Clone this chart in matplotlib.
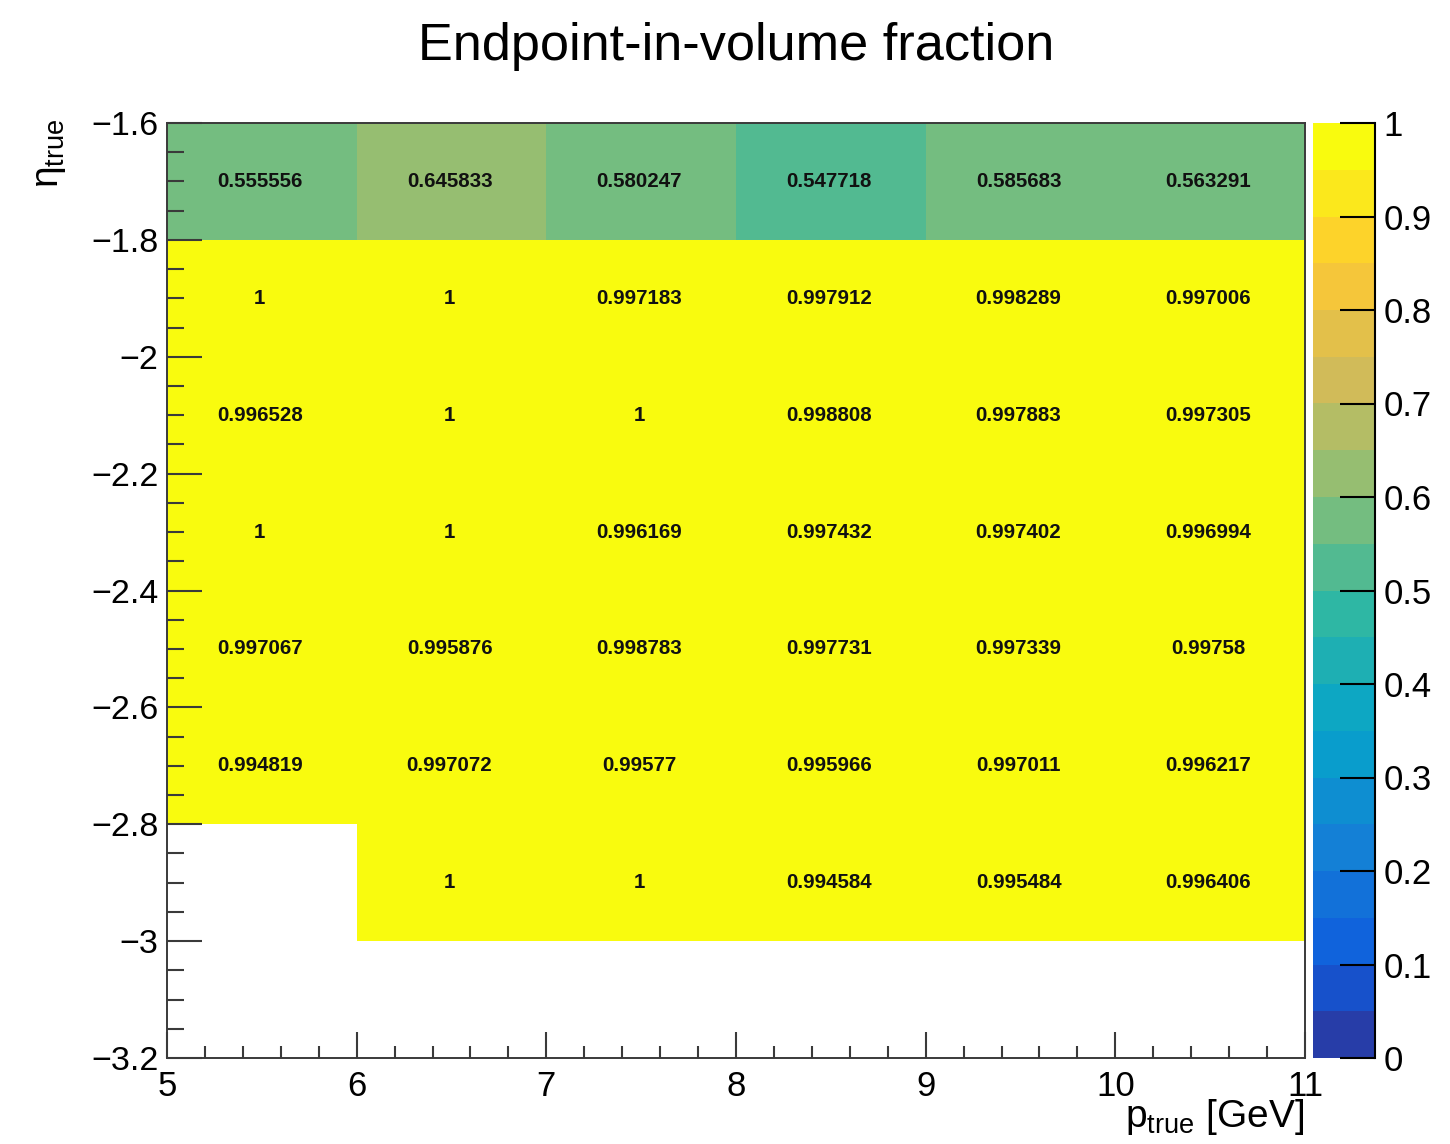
import numpy as np
import matplotlib
matplotlib.use("Agg")
import matplotlib.pyplot as plt
from matplotlib.colors import LinearSegmentedColormap, ListedColormap, Normalize
from matplotlib.ticker import MultipleLocator

plt.rcParams['font.family'] = ['Liberation Sans', 'DejaVu Sans']
plt.rcParams['mathtext.fontset'] = 'custom'
plt.rcParams['mathtext.rm'] = 'Liberation Sans'
plt.rcParams['mathtext.it'] = 'Liberation Sans:italic'
plt.rcParams['mathtext.bf'] = 'Liberation Sans:bold'

# ---- data ----
x_edges = [5, 6, 7, 8, 9, 10, 11]
y_edges = [-3.2, -3.0, -2.8, -2.6, -2.4, -2.2, -2.0, -1.8, -1.6]
# rows from bottom (-3.2..-3.0) to top (-1.8..-1.6); None = empty bin
row_m31 = [None, None, None, None, None, None]
row_m29 = [None, 1, 1, 0.994584, 0.995484, 0.996406]
row_m27 = [0.994819, 0.997072, 0.99577, 0.995966, 0.997011, 0.996217]
row_m25 = [0.997067, 0.995876, 0.998783, 0.997731, 0.997339, 0.99758]
row_m23 = [1, 1, 0.996169, 0.997432, 0.997402, 0.996994]
row_m21 = [0.996528, 1, 1, 0.998808, 0.997883, 0.997305]
row_m19 = [1, 1, 0.997183, 0.997912, 0.998289, 0.997006]
row_m17 = [0.555556, 0.645833, 0.580247, 0.547718, 0.585683, 0.563291]
rows = [row_m31, row_m29, row_m27, row_m25, row_m23, row_m21, row_m19, row_m17]
cbar_ticks = [0, 0.1, 0.2, 0.3, 0.4, 0.5, 0.6, 0.7, 0.8, 0.9, 1]
cbar_labels = ['0', '0.1', '0.2', '0.3', '0.4', '0.5', '0.6', '0.7', '0.8', '0.9', '1']

Z = np.array([[np.nan if v is None else v for v in r] for r in rows], dtype=float)
Zm = np.ma.masked_invalid(Z)

# ---- ROOT kBird palette, 20 contours ----
stops = [0.0000, 0.1250, 0.2500, 0.3750, 0.5000, 0.6250, 0.7500, 0.8750, 1.0000]
red = [0.2082, 0.0592, 0.0780, 0.0232, 0.1802, 0.5301, 0.8186, 0.9956, 0.9764]
green = [0.1664, 0.3599, 0.5041, 0.6419, 0.7178, 0.7492, 0.7328, 0.7862, 0.9832]
blue = [0.5293, 0.8684, 0.8385, 0.7914, 0.6425, 0.4662, 0.3499, 0.1968, 0.0539]
bird = LinearSegmentedColormap.from_list(
    'bird', list(zip(stops, zip(red, green, blue))), N=255)
ncont = 20
cols = [bird(int((i + 0.99) * 255 / ncont) / 254.0) for i in range(ncont)]
cmap = ListedColormap(cols)
norm = Normalize(vmin=0, vmax=1)

fig = plt.figure(figsize=(14.5, 11.44), dpi=100)
ax = fig.add_axes([167 / 1450, 1 - 1058 / 1144, 1138 / 1450, 935 / 1144])
mesh = ax.pcolormesh(x_edges, y_edges, Zm, cmap=cmap, norm=norm)
ax.set_xlim(5, 11)
ax.set_ylim(-3.2, -1.6)

xc = [(x_edges[i] + x_edges[i + 1]) / 2 for i in range(len(x_edges) - 1)]
yc = [(y_edges[j] + y_edges[j + 1]) / 2 for j in range(len(y_edges) - 1)]
for j, r in enumerate(rows):
    for i, v in enumerate(r):
        if v is None:
            continue
        ax.text(xc[i] - 0.01, yc[j], '{:g}'.format(v), ha='center', va='center',
                fontsize=14.8, fontweight='bold', color='#111111')

spc = '#3a3a3a'
for s in ax.spines.values():
    s.set_color(spc)
    s.set_linewidth(1.4)

ax.xaxis.set_major_locator(MultipleLocator(1))
ax.xaxis.set_minor_locator(MultipleLocator(0.2))
ax.yaxis.set_major_locator(MultipleLocator(0.2))
ax.yaxis.set_minor_locator(MultipleLocator(0.05))
ax.tick_params(axis='x', which='major', direction='in', length=19, width=1.5,
               color=spc, labelsize=25, pad=9, top=False)
ax.tick_params(axis='x', which='minor', direction='in', length=9, width=1.5,
               color=spc, top=False)
ax.tick_params(axis='y', which='major', direction='in', length=25, width=1.5,
               color=spc, labelsize=24.5, pad=6, right=False)
ax.tick_params(axis='y', which='minor', direction='in', length=12, width=1.5,
               color=spc, right=False)
ax.yaxis.set_major_formatter(matplotlib.ticker.FuncFormatter(
    lambda v, p: ('{:g}'.format(round(v, 2))).replace('-', '\u2212')))

ax.set_xlabel(r'$\mathrm{p}_{\mathrm{true}}$ [GeV]', fontsize=28, loc='right')
ax.xaxis.set_label_coords(0.999, -0.042)
ax.xaxis.label.set_va('top')
ax.set_ylabel(r'$\mathrm{\eta}_{\mathrm{true}}$', fontsize=28, loc='top')
ax.yaxis.set_label_coords(-0.087, 1.005)

fig.text(736 / 1450, 1 - 60 / 1144, 'Endpoint-in-volume fraction',
         ha='center', va='baseline', fontsize=37.6)

# colorbar
cax = fig.add_axes([1313 / 1450, 1 - 1058 / 1144, 62 / 1450, 935 / 1144])
cb = fig.colorbar(mesh, cax=cax)
cb.outline.set_visible(False)
cax.plot([1, 1], [0, 1], color='black', lw=1.5, transform=cax.transAxes,
         clip_on=False)
cb.set_ticks(cbar_ticks)
cb.set_ticklabels(cbar_labels)
cax.minorticks_off()
cax.tick_params(axis='y', which='major', direction='in', length=25, width=1.5,
                color='black', labelsize=25, pad=6, right=True, left=False)

fig.savefig('out.png', dpi=100, facecolor='white')
